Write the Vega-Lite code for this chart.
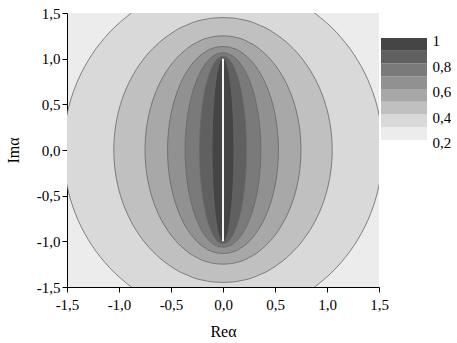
{
  "$schema": "https://vega.github.io/schema/vega-lite/v6.json",
  "background": "white",
  "padding": {"left": 5, "top": 6, "right": 0, "bottom": 0},
  "spacing": 2,
  "bounds": "flush",
  "config": {
    "font": "Liberation Serif",
    "axis": {"labelFont": "Liberation Serif", "titleFont": "Liberation Serif", "labelColor": "black", "titleColor": "black", "domainColor": "black", "tickColor": "black", "titleFontWeight": "normal", "grid": false, "labelFontSize": 15, "titleFontSize": 16}
  },
  "datasets": {
    "contours": [
      {"lv":0.3,"im":-1.83,"lo":0,"hi":0},{"lv":0.3,"im":-1.823,"lo":-0.1338,"hi":0.1338},{"lv":0.3,"im":-1.8022,"lo":-0.2666,"hi":0.2666},{"lv":0.3,"im":-1.7196,"lo":-0.525,"hi":0.525},{"lv":0.3,"im":-1.5848,"lo":-0.7675,"hi":0.7675},{"lv":0.3,"im":-1.4019,"lo":-0.9867,"hi":0.9867},{"lv":0.3,"im":-1.1763,"lo":-1.1759,"hi":1.1759},{"lv":0.3,"im":-0.915,"lo":-1.3294,"hi":1.3294},{"lv":0.3,"im":-0.6259,"lo":-1.4424,"hi":1.4424},{"lv":0.3,"im":-0.3178,"lo":-1.5117,"hi":1.5117},{"lv":0.3,"im":0,"lo":-1.535,"hi":1.535},{"lv":0.3,"im":0.3178,"lo":-1.5117,"hi":1.5117},{"lv":0.3,"im":0.6259,"lo":-1.4424,"hi":1.4424},{"lv":0.3,"im":0.915,"lo":-1.3294,"hi":1.3294},{"lv":0.3,"im":1.1763,"lo":-1.1759,"hi":1.1759},{"lv":0.3,"im":1.4019,"lo":-0.9867,"hi":0.9867},{"lv":0.3,"im":1.5848,"lo":-0.7675,"hi":0.7675},{"lv":0.3,"im":1.7196,"lo":-0.525,"hi":0.525},{"lv":0.3,"im":1.8022,"lo":-0.2666,"hi":0.2666},{"lv":0.3,"im":1.823,"lo":-0.1338,"hi":0.1338},{"lv":0.3,"im":1.83,"lo":0,"hi":0},
      {"lv":0.4,"im":-1.45,"lo":0,"hi":0},{"lv":0.4,"im":-1.4445,"lo":-0.0915,"hi":0.0915},{"lv":0.4,"im":-1.428,"lo":-0.1823,"hi":0.1823},{"lv":0.4,"im":-1.3626,"lo":-0.3591,"hi":0.3591},{"lv":0.4,"im":-1.2557,"lo":-0.525,"hi":0.525},{"lv":0.4,"im":-1.1108,"lo":-0.6749,"hi":0.6749},{"lv":0.4,"im":-0.932,"lo":-0.8043,"hi":0.8043},{"lv":0.4,"im":-0.725,"lo":-0.9093,"hi":0.9093},{"lv":0.4,"im":-0.4959,"lo":-0.9867,"hi":0.9867},{"lv":0.4,"im":-0.2518,"lo":-1.0341,"hi":1.0341},{"lv":0.4,"im":0,"lo":-1.05,"hi":1.05},{"lv":0.4,"im":0.2518,"lo":-1.0341,"hi":1.0341},{"lv":0.4,"im":0.4959,"lo":-0.9867,"hi":0.9867},{"lv":0.4,"im":0.725,"lo":-0.9093,"hi":0.9093},{"lv":0.4,"im":0.932,"lo":-0.8043,"hi":0.8043},{"lv":0.4,"im":1.1108,"lo":-0.6749,"hi":0.6749},{"lv":0.4,"im":1.2557,"lo":-0.525,"hi":0.525},{"lv":0.4,"im":1.3626,"lo":-0.3591,"hi":0.3591},{"lv":0.4,"im":1.428,"lo":-0.1823,"hi":0.1823},{"lv":0.4,"im":1.4445,"lo":-0.0915,"hi":0.0915},{"lv":0.4,"im":1.45,"lo":0,"hi":0},
      {"lv":0.5,"im":-1.25,"lo":0,"hi":0},{"lv":0.5,"im":-1.2452,"lo":-0.0654,"hi":0.0654},{"lv":0.5,"im":-1.231,"lo":-0.1302,"hi":0.1302},{"lv":0.5,"im":-1.1746,"lo":-0.2565,"hi":0.2565},{"lv":0.5,"im":-1.0825,"lo":-0.375,"hi":0.375},{"lv":0.5,"im":-0.9576,"lo":-0.4821,"hi":0.4821},{"lv":0.5,"im":-0.8035,"lo":-0.5745,"hi":0.5745},{"lv":0.5,"im":-0.625,"lo":-0.6495,"hi":0.6495},{"lv":0.5,"im":-0.4275,"lo":-0.7048,"hi":0.7048},{"lv":0.5,"im":-0.2171,"lo":-0.7386,"hi":0.7386},{"lv":0.5,"im":0,"lo":-0.75,"hi":0.75},{"lv":0.5,"im":0.2171,"lo":-0.7386,"hi":0.7386},{"lv":0.5,"im":0.4275,"lo":-0.7048,"hi":0.7048},{"lv":0.5,"im":0.625,"lo":-0.6495,"hi":0.6495},{"lv":0.5,"im":0.8035,"lo":-0.5745,"hi":0.5745},{"lv":0.5,"im":0.9576,"lo":-0.4821,"hi":0.4821},{"lv":0.5,"im":1.0825,"lo":-0.375,"hi":0.375},{"lv":0.5,"im":1.1746,"lo":-0.2565,"hi":0.2565},{"lv":0.5,"im":1.231,"lo":-0.1302,"hi":0.1302},{"lv":0.5,"im":1.2452,"lo":-0.0654,"hi":0.0654},{"lv":0.5,"im":1.25,"lo":0,"hi":0},
      {"lv":0.6,"im":-1.1333,"lo":0,"hi":0},{"lv":0.6,"im":-1.129,"lo":-0.0465,"hi":0.0465},{"lv":0.6,"im":-1.1161,"lo":-0.0926,"hi":0.0926},{"lv":0.6,"im":-1.065,"lo":-0.1824,"hi":0.1824},{"lv":0.6,"im":-0.9815,"lo":-0.2667,"hi":0.2667},{"lv":0.6,"im":-0.8682,"lo":-0.3428,"hi":0.3428},{"lv":0.6,"im":-0.7285,"lo":-0.4085,"hi":0.4085},{"lv":0.6,"im":-0.5667,"lo":-0.4619,"hi":0.4619},{"lv":0.6,"im":-0.3876,"lo":-0.5011,"hi":0.5011},{"lv":0.6,"im":-0.1968,"lo":-0.5252,"hi":0.5252},{"lv":0.6,"im":0,"lo":-0.5333,"hi":0.5333},{"lv":0.6,"im":0.1968,"lo":-0.5252,"hi":0.5252},{"lv":0.6,"im":0.3876,"lo":-0.5011,"hi":0.5011},{"lv":0.6,"im":0.5667,"lo":-0.4619,"hi":0.4619},{"lv":0.6,"im":0.7285,"lo":-0.4085,"hi":0.4085},{"lv":0.6,"im":0.8682,"lo":-0.3428,"hi":0.3428},{"lv":0.6,"im":0.9815,"lo":-0.2667,"hi":0.2667},{"lv":0.6,"im":1.065,"lo":-0.1824,"hi":0.1824},{"lv":0.6,"im":1.1161,"lo":-0.0926,"hi":0.0926},{"lv":0.6,"im":1.129,"lo":-0.0465,"hi":0.0465},{"lv":0.6,"im":1.1333,"lo":0,"hi":0},
      {"lv":0.7,"im":-1.0643,"lo":0,"hi":0},{"lv":0.7,"im":-1.0602,"lo":-0.0318,"hi":0.0318},{"lv":0.7,"im":-1.0481,"lo":-0.0633,"hi":0.0633},{"lv":0.7,"im":-1.0001,"lo":-0.1246,"hi":0.1246},{"lv":0.7,"im":-0.9217,"lo":-0.1822,"hi":0.1822},{"lv":0.7,"im":-0.8153,"lo":-0.2342,"hi":0.2342},{"lv":0.7,"im":-0.6842,"lo":-0.2791,"hi":0.2791},{"lv":0.7,"im":-0.5322,"lo":-0.3155,"hi":0.3155},{"lv":0.7,"im":-0.364,"lo":-0.3423,"hi":0.3423},{"lv":0.7,"im":-0.1848,"lo":-0.3588,"hi":0.3588},{"lv":0.7,"im":0,"lo":-0.3643,"hi":0.3643},{"lv":0.7,"im":0.1848,"lo":-0.3588,"hi":0.3588},{"lv":0.7,"im":0.364,"lo":-0.3423,"hi":0.3423},{"lv":0.7,"im":0.5322,"lo":-0.3155,"hi":0.3155},{"lv":0.7,"im":0.6842,"lo":-0.2791,"hi":0.2791},{"lv":0.7,"im":0.8153,"lo":-0.2342,"hi":0.2342},{"lv":0.7,"im":0.9217,"lo":-0.1822,"hi":0.1822},{"lv":0.7,"im":1.0001,"lo":-0.1246,"hi":0.1246},{"lv":0.7,"im":1.0481,"lo":-0.0633,"hi":0.0633},{"lv":0.7,"im":1.0602,"lo":-0.0318,"hi":0.0318},{"lv":0.7,"im":1.0643,"lo":0,"hi":0},
      {"lv":0.8,"im":-1.025,"lo":0,"hi":0},{"lv":0.8,"im":-1.0211,"lo":-0.0196,"hi":0.0196},{"lv":0.8,"im":-1.0094,"lo":-0.0391,"hi":0.0391},{"lv":0.8,"im":-0.9632,"lo":-0.077,"hi":0.077},{"lv":0.8,"im":-0.8877,"lo":-0.1125,"hi":0.1125},{"lv":0.8,"im":-0.7852,"lo":-0.1446,"hi":0.1446},{"lv":0.8,"im":-0.6589,"lo":-0.1724,"hi":0.1724},{"lv":0.8,"im":-0.5125,"lo":-0.1949,"hi":0.1949},{"lv":0.8,"im":-0.3506,"lo":-0.2114,"hi":0.2114},{"lv":0.8,"im":-0.178,"lo":-0.2216,"hi":0.2216},{"lv":0.8,"im":0,"lo":-0.225,"hi":0.225},{"lv":0.8,"im":0.178,"lo":-0.2216,"hi":0.2216},{"lv":0.8,"im":0.3506,"lo":-0.2114,"hi":0.2114},{"lv":0.8,"im":0.5125,"lo":-0.1949,"hi":0.1949},{"lv":0.8,"im":0.6589,"lo":-0.1724,"hi":0.1724},{"lv":0.8,"im":0.7852,"lo":-0.1446,"hi":0.1446},{"lv":0.8,"im":0.8877,"lo":-0.1125,"hi":0.1125},{"lv":0.8,"im":0.9632,"lo":-0.077,"hi":0.077},{"lv":0.8,"im":1.0094,"lo":-0.0391,"hi":0.0391},{"lv":0.8,"im":1.0211,"lo":-0.0196,"hi":0.0196},{"lv":0.8,"im":1.025,"lo":0,"hi":0},
      {"lv":0.9,"im":-1.0056,"lo":0,"hi":0},{"lv":0.9,"im":-1.0018,"lo":-0.0092,"hi":0.0092},{"lv":0.9,"im":-0.9903,"lo":-0.0183,"hi":0.0183},{"lv":0.9,"im":-0.9449,"lo":-0.0361,"hi":0.0361},{"lv":0.9,"im":-0.8709,"lo":-0.0528,"hi":0.0528},{"lv":0.9,"im":-0.7703,"lo":-0.0679,"hi":0.0679},{"lv":0.9,"im":-0.6464,"lo":-0.0809,"hi":0.0809},{"lv":0.9,"im":-0.5028,"lo":-0.0915,"hi":0.0915},{"lv":0.9,"im":-0.3439,"lo":-0.0992,"hi":0.0992},{"lv":0.9,"im":-0.1746,"lo":-0.104,"hi":0.104},{"lv":0.9,"im":0,"lo":-0.1056,"hi":0.1056},{"lv":0.9,"im":0.1746,"lo":-0.104,"hi":0.104},{"lv":0.9,"im":0.3439,"lo":-0.0992,"hi":0.0992},{"lv":0.9,"im":0.5028,"lo":-0.0915,"hi":0.0915},{"lv":0.9,"im":0.6464,"lo":-0.0809,"hi":0.0809},{"lv":0.9,"im":0.7703,"lo":-0.0679,"hi":0.0679},{"lv":0.9,"im":0.8709,"lo":-0.0528,"hi":0.0528},{"lv":0.9,"im":0.9449,"lo":-0.0361,"hi":0.0361},{"lv":0.9,"im":0.9903,"lo":-0.0183,"hi":0.0183},{"lv":0.9,"im":1.0018,"lo":-0.0092,"hi":0.0092},{"lv":0.9,"im":1.0056,"lo":0,"hi":0}
    ],
    "slit": [{"re":0,"im":-1},{"re":0,"im":1}],
    "bar": [
      {"lv":0.2,"top":0.3},{"lv":0.3,"top":0.4},{"lv":0.4,"top":0.5},{"lv":0.5,"top":0.6},
      {"lv":0.6,"top":0.7},{"lv":0.7,"top":0.8},{"lv":0.8,"top":0.9},{"lv":0.9,"top":1.0}
    ]
  },
  "hconcat": [
    {
      "width": 312,
      "height": 274,
      "view": {"fill": "#ececec", "stroke": null},
      "layer": [
        {
          "data": {"name": "contours"},
          "mark": {"type": "area", "orient": "horizontal", "interpolate": "monotone", "clip": true, "stroke": "#666666", "strokeWidth": 0.8},
          "encoding": {
            "y": {
              "field": "im", "type": "quantitative",
              "scale": {"domain": [-1.5, 1.5], "nice": false, "zero": false},
              "axis": {
                "title": "Imα",
                "values": [-1.5,-1.25,-1,-0.75,-0.5,-0.25,0,0.25,0.5,0.75,1,1.25,1.5],
                "labelExpr": "abs(datum.value*2-round(datum.value*2))<0.01 ? replace(replace(format(datum.value,'.1f'),'.',','),'\u2212','-') : ''",
                "tickSize": {"condition": {"test": "abs(datum.value*2-round(datum.value*2))<0.01", "value": 5}, "value": 3},
                "labelPadding": 2,
                "titlePadding": 15,
                "labelFlush": false,
                "labelOverlap": false
              }
            },
            "x": {
              "field": "lo", "type": "quantitative",
              "scale": {"domain": [-1.5, 1.5], "nice": false, "zero": false},
              "axis": {
                "title": "Reα",
                "values": [-1.5,-1.25,-1,-0.75,-0.5,-0.25,0,0.25,0.5,0.75,1,1.25,1.5],
                "labelExpr": "abs(datum.value*2-round(datum.value*2))<0.01 ? replace(replace(format(datum.value,'.1f'),'.',','),'\u2212','-') : ''",
                "tickSize": {"condition": {"test": "abs(datum.value*2-round(datum.value*2))<0.01", "value": 5}, "value": 3},
                "labelPadding": 5,
                "titlePadding": 11,
                "labelFlush": false,
                "labelOverlap": false
              }
            },
            "x2": {"field": "hi"},
            "fill": {
              "field": "lv", "type": "ordinal",
              "scale": {"domain": [0.2,0.3,0.4,0.5,0.6,0.7,0.8,0.9], "range": ["#ececec","#d9d9d9","#c0c0c0","#a8a8a8","#919191","#7a7a7a","#606060","#454545"]},
              "legend": null
            }
          }
        },
        {
          "data": {"name": "slit"},
          "mark": {"type": "line", "color": "#f2f2f2", "strokeWidth": 2, "clip": true},
          "encoding": {
            "x": {"field": "re", "type": "quantitative"},
            "y": {"field": "im", "type": "quantitative"}
          }
        }
      ]
    },
    {
      "width": 46,
      "height": 274,
      "view": {"stroke": null},
      "data": {"name": "bar"},
      "mark": {"type": "rect"},
      "encoding": {
        "y": {
          "field": "lv", "type": "quantitative",
          "scale": {"domain": [-0.953, 1.196], "nice": false, "zero": false},
          "axis": {
            "orient": "right",
            "title": null,
            "values": [0.2, 0.4, 0.6, 0.8, 1],
            "labelExpr": "datum.value == 1 ? '1' : replace(format(datum.value,'.1f'),'.',',')",
            "domain": false,
            "ticks": false,
            "labelPadding": 5,
            "labelOffset": 3,
            "labelFlush": false,
            "labelOverlap": false
          }
        },
        "y2": {"field": "top"},
        "fill": {
          "field": "lv", "type": "ordinal",
          "scale": {"domain": [0.2,0.3,0.4,0.5,0.6,0.7,0.8,0.9], "range": ["#ececec","#d9d9d9","#c0c0c0","#a8a8a8","#919191","#7a7a7a","#606060","#454545"]},
          "legend": null
        }
      }
    }
  ]
}
